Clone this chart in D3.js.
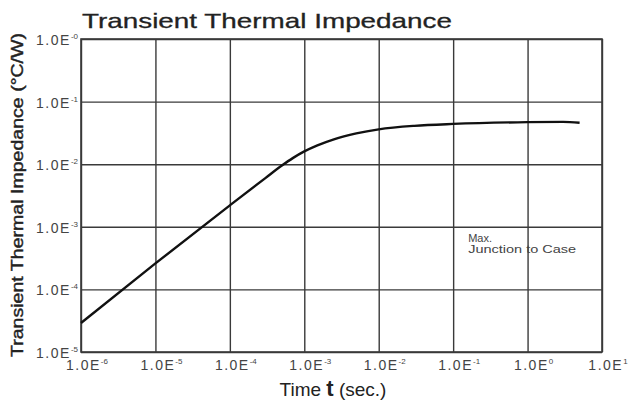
<!DOCTYPE html>
<html>
<head>
<meta charset="utf-8">
<script src="https://cdn.jsdelivr.net/npm/d3@7"></script>
<style>
  body { margin: 0; background: #fff; }
  svg { display: block; font-family: "Liberation Sans", Arial, sans-serif; }
</style>
</head>
<body>
<div id="chart"></div>
<script>
// time (s) vs Zth (C/W)
var times = [1e-6, 1e-5, 1e-4, 3e-4, 5e-4, 7e-4, 1e-3, 1.5e-3, 2.5e-3, 5e-3, 1e-2, 3e-2, 1e-1, 1e0, 3e0, 5e0];
var zth = [2.9e-5, 2.6e-4, 2.2e-3, 6.0e-3, 9.5e-3, 1.25e-2, 1.6e-2, 2.0e-2, 2.5e-2, 3.1e-2, 3.6e-2, 4.1e-2, 4.4e-2, 4.7e-2, 4.75e-2, 4.6e-2];

var xTicks = [1e-6, 1e-5, 1e-4, 1e-3, 1e-2, 1e-1, 1e0, 1e1];
var xTickExp = ["-6", "-5", "-4", "-3", "-2", "-1", "0", "1"];
var yTicks = [1e-5, 1e-4, 1e-3, 1e-2, 1e-1, 1e0];
var yTickExp = ["-5", "-4", "-3", "-2", "-1", "-0"];

var margin = {top: 39, right: 28, bottom: 51, left: 81};
var W = 630, H = 403;
var width = W - margin.left - margin.right;
var height = H - margin.top - margin.bottom;

var svg = d3.select("#chart")
  .append("svg")
    .attr("width", W)
    .attr("height", H);

var g = svg.append("g")
    .attr("transform", "translate(" + margin.left + "," + margin.top + ")");

var x = d3.scaleLog()
    .domain([1e-6, 1e1])
    .range([0, width]);

var y = d3.scaleLog()
    .domain([1e-5, 1e0])
    .range([height, 0]);

// grid
var gx = g.append("g")
    .attr("transform", "translate(0," + height + ")")
    .call(d3.axisBottom(x).tickValues(xTicks).tickSize(-height).tickFormat(""));
var gy = g.append("g")
    .call(d3.axisLeft(y).tickValues(yTicks).tickSize(-width).tickFormat(""));
[gx, gy].forEach(function(a) {
    a.select(".domain").remove();
    a.selectAll("line").attr("stroke", "#3a3a3a").attr("stroke-width", 1.4);
});

g.append("rect")
    .attr("width", width)
    .attr("height", height)
    .attr("fill", "none")
    .attr("stroke", "#3a3a3a")
    .attr("stroke-width", 1.6);

// tick labels
var xl = g.append("g").selectAll("text")
    .data(xTicks)
    .enter()
    .append("text")
      .attr("x", function(d) { return x(d) + 6; })
      .attr("y", height + 18)
      .attr("text-anchor", "middle")
      .attr("font-size", 14)
      .attr("letter-spacing", 1.5)
      .attr("fill", "#444");
xl.append("tspan").text("1.0E");
xl.append("tspan")
    .attr("dy", -6)
    .attr("font-size", 8)
    .attr("letter-spacing", 0)
    .text(function(d, i) { return xTickExp[i]; });

var yl = g.append("g").selectAll("text")
    .data(yTicks)
    .enter()
    .append("text")
      .attr("x", -3)
      .attr("y", function(d) { return y(d) + 6; })
      .attr("text-anchor", "end")
      .attr("font-size", 14)
      .attr("letter-spacing", 1.5)
      .attr("fill", "#444");
yl.append("tspan").text("1.0E");
yl.append("tspan")
    .attr("dy", -6)
    .attr("font-size", 8)
    .attr("letter-spacing", 0)
    .text(function(d, i) { return yTickExp[i]; });

// curve
var line = d3.line()
    .x(function(d) { return x(d[0]); })
    .y(function(d) { return y(d[1]); })
    .curve(d3.curveMonotoneX);

g.append("path")
    .datum(times.map(function(t, i) { return [t, zth[i]]; }))
    .attr("fill", "none")
    .attr("stroke", "#111")
    .attr("stroke-width", 2.4)
    .attr("d", line);

// annotation
var nx = x(1e-1) + 15;
var note = g.append("text")
    .attr("font-size", 11)
    .attr("fill", "#444");
note.append("tspan").attr("x", nx).attr("y", y(1e-3) + 15).text("Max.");
note.append("tspan").attr("x", nx).attr("y", y(1e-3) + 26)
    .attr("textLength", 108).attr("lengthAdjust", "spacingAndGlyphs")
    .text("Junction to Case");

// titles
svg.append("text")
    .attr("x", 82)
    .attr("y", 28)
    .attr("font-size", 21)
    .attr("fill", "#222")
    .attr("stroke", "#222")
    .attr("stroke-width", 0.3)
    .attr("textLength", 370)
    .attr("lengthAdjust", "spacingAndGlyphs")
    .text("Transient Thermal Impedance");

svg.append("text")
    .attr("transform", "translate(23,195) rotate(-90)")
    .attr("text-anchor", "middle")
    .attr("font-size", 17)
    .attr("fill", "#222")
    .attr("stroke", "#222")
    .attr("stroke-width", 0.4)
    .attr("textLength", 324)
    .attr("lengthAdjust", "spacingAndGlyphs")
    .text("Transient Thermal Impedance (\u00b0C/W)");

var xt = svg.append("text")
    .attr("x", 333)
    .attr("y", 396)
    .attr("text-anchor", "middle")
    .attr("font-size", 19)
    .attr("fill", "#222");
xt.append("tspan").text("Time ");
xt.append("tspan").attr("font-weight", "bold").attr("font-size", 22).text("t");
xt.append("tspan").text(" (sec.)");
</script>
</body>
</html>
